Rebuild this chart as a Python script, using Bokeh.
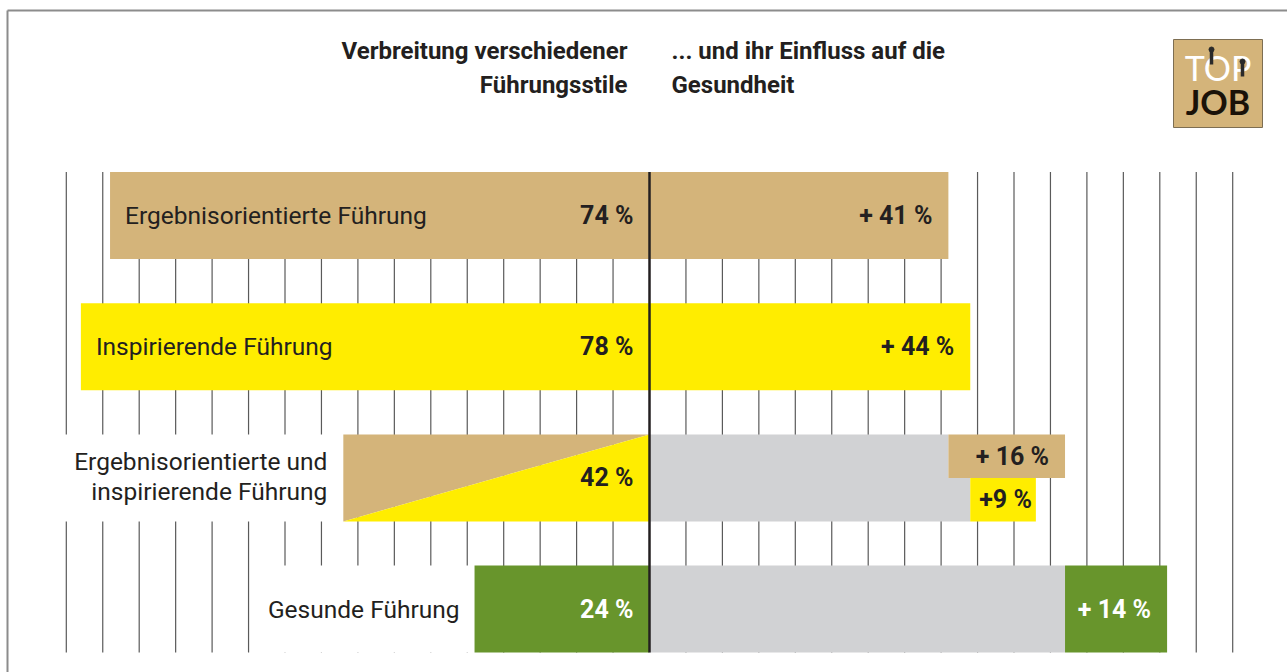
from bokeh.plotting import figure
from bokeh.models import Range1d
from bokeh.core.properties import value
from bokeh.embed import file_html
from bokeh.resources import INLINE

# ---------------- data ----------------
categories = ["Ergebnisorientierte Führung", "Inspirierende Führung",
              "Ergebnisorientierte und", "Gesunde Führung"]
category_line2 = "inspirierende Führung"
share = [74, 78, 42, 24]                  # Verbreitung (left side)
share_labels = ["74 %", "78 %", "42 %", "24 %"]
effect = [41, 44]                         # rows 0 and 1 (right side)
effect_labels = ["+ 41 %", "+ 44 %"]
combo_base = [41, 44]                     # row 2: grey base (top / bottom half)
combo_gain = [16, 9]                      # row 2: extra effect
combo_labels = ["+ 16 %", "+9 %"]
healthy_base = 57                         # row 3: grey base
healthy_gain = 14                         # row 3: extra effect
healthy_label = "+ 14 %"
grid_ticks = [t for t in range(-80, 85, 5) if t != 0]
title_left = ["Verbreitung verschiedener", "Führungsstile"]
title_right = ["... und ihr Einfluss auf die", "Gesundheit"]

TAN = "#D4B47A"
YELLOW = "#FFED00"
GREEN = "#68952C"
GRAY = "#D1D2D4"
INK = "#231F20"
FONT = "Roboto"

# ---------------- geometry helpers (decoration only) ----------------
PX_PER_UNIT_X = 7.29
X0 = 649.0
PX_PER_ROW = 131.2
Y0 = 215.0
H = 87.0 / PX_PER_ROW


def X(px):
    return (px - X0) / PX_PER_UNIT_X


def Y(py):
    return (py - Y0) / PX_PER_ROW


W, HH = 1287, 672
p = figure(width=W, height=HH, x_range=Range1d(X(0), X(W)), y_range=Range1d(Y(HH), Y(0)),
           output_backend="svg", toolbar_location=None, min_border=0,
           x_axis_type=None, y_axis_type=None, outline_line_color=None,
           background_fill_color="white", border_fill_color="white")

rows = list(range(len(categories)))
top_all = rows[0] - H / 2
bot_all = rows[-1] + H / 2

# frame
p.multi_line(xs=[[X(7), X(7)], [X(7), X(1300)]], ys=[[Y(10), Y(700)], [Y(10), Y(10)]],
             line_color="#8c8c8c", line_width=2)

# grid lines
p.segment(x0=grid_ticks, x1=grid_ticks, y0=[top_all] * len(grid_ticks), y1=[bot_all] * len(grid_ticks),
          line_color="#5a5a5a", line_width=1.2)

# white label backgrounds (rows 2 and 3, labels outside the bars)
p.hbar(y=[2, 3], left=[X(56), X(262)], right=[-share[2], -share[3]], height=H,
       fill_color="white", line_color=None)

# left bars
left_colors = [TAN, YELLOW, None, GREEN]
for r in rows:
    if r == 2:
        continue
    p.hbar(y=[r], left=[-share[r]], right=[0], height=H, fill_color=left_colors[r], line_color=None)
# row 2: split diagonally
t, b = 2 - H / 2, 2 + H / 2
p.patches(xs=[[-share[2], 0, -share[2]], [-share[2], 0, 0]], ys=[[t, t, b], [b, t, b]],
          fill_color=[TAN, YELLOW], line_color=None)

# right bars
p.hbar(y=[0], left=[0], right=[effect[0]], height=H, fill_color=TAN, line_color=None)
p.hbar(y=[1], left=[0], right=[effect[1]], height=H, fill_color=YELLOW, line_color=None)
yt, yb = 2 - H / 4, 2 + H / 4
p.hbar(y=[yt, yb], left=[0, 0], right=combo_base, height=H / 2, fill_color=GRAY, line_color=None)
p.hbar(y=[yt, yb], left=combo_base, right=[combo_base[i] + combo_gain[i] for i in range(2)],
       height=H / 2, fill_color=[TAN, YELLOW], line_color=None)
p.hbar(y=[3], left=[0], right=[healthy_base], height=H, fill_color=GRAY, line_color=None)
p.hbar(y=[3], left=[healthy_base], right=[healthy_base + healthy_gain], height=H,
       fill_color=GREEN, line_color=None)

# centre line
p.segment(x0=[0], x1=[0], y0=[top_all], y1=[bot_all], line_color=INK, line_width=2.5)

# category labels
txt = dict(text_font=value(FONT), text_font_size="24.5px", text_color=INK, text_baseline="middle")
p.text(x=[-share[0], -share[1]], y=[0, 1], text=categories[:2], x_offset=15, text_align="left", **txt)
p.text(x=[-share[2]], y=[2], text=[categories[2]], x_offset=-16, y_offset=-16, text_align="right", **txt)
p.text(x=[-share[2]], y=[2], text=[category_line2], x_offset=-16, y_offset=14, text_align="right", **txt)
p.text(x=[-share[3]], y=[3], text=[categories[3]], x_offset=-15, text_align="right", **txt)

# value labels
bold = dict(text_font=value(FONT), text_font_size="25px", text_font_style="bold",
            text_baseline="middle", text_align="right")
p.text(x=[0, 0, 0], y=[0, 1, 2], text=share_labels[:3], x_offset=-16, text_color=INK, **bold)
p.text(x=[0], y=[3], text=[share_labels[3]], x_offset=-16, text_color="white", **bold)
p.text(x=effect, y=[0, 1], text=effect_labels, x_offset=-16, text_color=INK, **bold)
p.text(x=[combo_base[0] + combo_gain[0]], y=[yt], text=[combo_labels[0]], x_offset=-16, text_color=INK, **bold)
p.text(x=[combo_base[1] + combo_gain[1]], y=[yb], text=[combo_labels[1]], x_offset=-4, text_color=INK, **bold)
p.text(x=[healthy_base + healthy_gain], y=[3], text=[healthy_label], x_offset=-16, text_color="white", **bold)

# titles
ttl = dict(text_font=value(FONT), text_font_size="24px", text_font_style="bold",
           text_color=INK, text_baseline="middle")
p.text(x=[0, 0], y=[Y(50), Y(84)], text=title_left, x_offset=-22, text_align="right", **ttl)
p.text(x=[0, 0], y=[Y(50), Y(84)], text=title_right, x_offset=22, text_align="left", **ttl)

# logo
p.quad(left=[X(1173)], right=[X(1262)], top=[Y(39)], bottom=[Y(127)], fill_color=TAN,
       line_color="#7d6e52", line_width=1)
p.text(x=[X(1217.5)], y=[Y(67)], text=["TOP"], text_font=value("Lato"), text_font_size="34px",
       text_color="white", text_align="center", text_baseline="middle")
p.text(x=[X(1217.5)], y=[Y(101)], text=["JOB"], text_font=value("Lato"), text_font_size="34px",
       text_font_style="bold", text_color="#1a1208", text_align="center", text_baseline="middle")
p.segment(x0=[X(1211), X(1242)], x1=[X(1211), X(1242)], y0=[Y(50), Y(62)], y1=[Y(64), Y(76)],
          line_color="#2a2a2a", line_width=3.5)
p.scatter(x=[X(1211), X(1242)], y=[Y(49), Y(61)], size=5, color="#2a2a2a")

open("out.html", "w").write(file_html(p, INLINE))
